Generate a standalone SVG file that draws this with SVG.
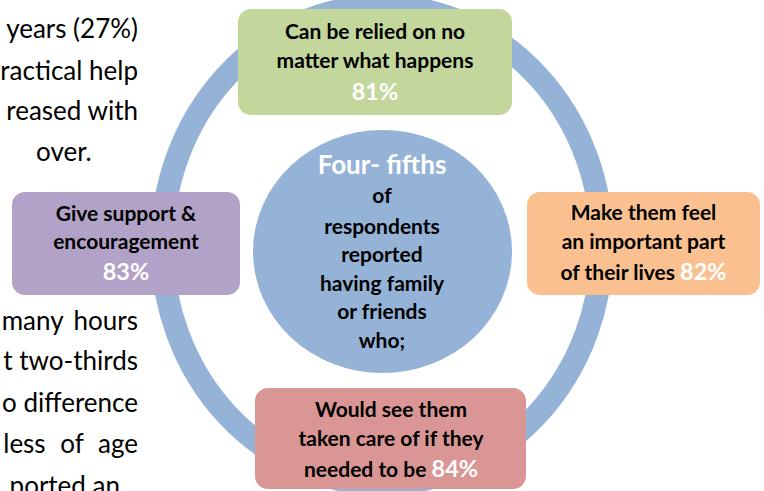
<svg xmlns="http://www.w3.org/2000/svg" width="764" height="491" viewBox="0 0 764 491">
<style>
.body{font-family:Lato,"Liberation Sans",sans-serif;font-size:26px;fill:#000}
.lbl{font-family:Lato,"Liberation Sans",sans-serif;font-weight:bold;font-size:21px;fill:#000;text-anchor:middle}
.pct{fill:#fff;font-size:23.5px}
.box{stroke:none}
</style>
<rect width="764" height="491" fill="#fff"/>
<g id="paragraph" class="body" text-anchor="end">
<text x="138" y="38">years (27%)</text>
<text x="138" y="80">ractical help</text>
<text x="138" y="120">reased with</text>
<text x="36" y="161" text-anchor="start">over.</text>
<text x="138" y="330" word-spacing="4">many hours</text>
<text x="138" y="370">t two-thirds</text>
<text x="138" y="412">o difference</text>
<text x="138" y="453" word-spacing="8">less of age</text>
<text x="120" y="495">ported an</text>
</g>
<g id="connectors">
<ellipse cx="382" cy="245" rx="220" ry="239" fill="none" stroke="#95B3D7" stroke-width="23"/>
</g>
<g id="center">
<ellipse cx="382.5" cy="251.5" rx="129.5" ry="121.5" fill="#95B3D7"/>
<text class="lbl" x="382" y="174" style="fill:#fff;font-size:26px">Four- fifths</text>
<text class="lbl" x="382" y="203">of</text>
<text class="lbl" x="382" y="234">respondents</text>
<text class="lbl" x="382" y="262">reported</text>
<text class="lbl" x="382" y="291">having family</text>
<text class="lbl" x="382" y="319">or friends</text>
<text class="lbl" x="382" y="348">who;</text>
</g>
<g id="node-green">
<rect class="box" x="238" y="9" width="274" height="106" rx="13" fill="#C3D69B"/>
<text class="lbl" x="375" y="39">Can be relied on no</text>
<text class="lbl" x="375" y="68">matter what happens</text>
<text class="lbl pct" x="375" y="100">81%</text>
</g>
<g id="node-orange">
<rect class="box" x="527" y="192" width="233" height="103" rx="13" fill="#FAC090"/>
<text class="lbl" x="643.5" y="220">Make them feel</text>
<text class="lbl" x="643.5" y="249">an important part</text>
<text class="lbl" x="643.5" y="280">of their lives <tspan class="pct">82%</tspan></text>
</g>
<g id="node-purple">
<rect class="box" x="12" y="192" width="228" height="103" rx="13" fill="#B3A2C7"/>
<text class="lbl" x="126" y="221">Give support &amp;</text>
<text class="lbl" x="126" y="249">encouragement</text>
<text class="lbl pct" x="126" y="280">83%</text>
</g>
<g id="node-red">
<rect class="box" x="255" y="388" width="271" height="101" rx="13" fill="#D99694"/>
<text class="lbl" x="391" y="417">Would see them</text>
<text class="lbl" x="391" y="446">taken care of if they</text>
<text class="lbl" x="391" y="477">needed to be <tspan class="pct">84%</tspan></text>
</g>
</svg>
